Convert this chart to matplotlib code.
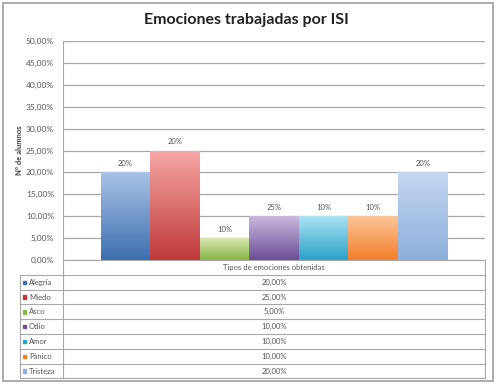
import matplotlib
matplotlib.use("Agg")
import matplotlib.pyplot as plt
import numpy as np
from matplotlib.colors import LinearSegmentedColormap
from matplotlib.patches import Rectangle
from matplotlib.lines import Line2D

plt.rcParams["font.family"] = ["Lato", "DejaVu Sans"]

emotions = ["Alegría", "Miedo", "Asco", "Odio", "Amor", "Pánico", "Tristeza"]
values = [20, 25, 5, 10, 10, 10, 20]
bar_labels = ["20%", "20%", "10%", "25%", "10%", "10%", "20%"]
category = "Tipos de emociones obtenidas"
title = "Emociones trabajadas por ISI"
ylabel = "Nº de alumnos"
dark = ["#3c6fb0", "#c0393a", "#8ab447", "#6c4f96", "#2aa3c8", "#f47f2a", "#8eaedb"]
light = ["#a9c2e6", "#f6a8a6", "#d6e8b0", "#c9b8df", "#a9e2f4", "#fbc598", "#c4d7f0"]

W, H = 498, 384
fig = plt.figure(figsize=(W / 100, H / 100), dpi=100)
fig.patch.set_facecolor("white")
grey = "#555555"


def fx(px):
    return px / W


def fy(py):
    return 1 - py / H


ax = fig.add_axes([fx(63), fy(260), fx(485) - fx(63), fy(41) - fy(260)])
n = len(values)
group = 0.822
width = group / n
xs = -group / 2 + width / 2 + np.arange(n) * width
bars = ax.bar(xs, values, width=width, color="none", edgecolor="none", zorder=2)
grad = np.linspace(0, 1, 100).reshape(-1, 1)
for bar, lo, hi, lab in zip(bars, dark, light, bar_labels):
    cmap = LinearSegmentedColormap.from_list("g", [lo, hi])
    x0, y0 = bar.get_x(), bar.get_y()
    im = ax.imshow(grad, cmap=cmap, aspect="auto", origin="lower",
                   extent=[x0, x0 + bar.get_width(), y0, y0 + bar.get_height()], zorder=2)
    im.set_clip_path(bar)
    ax.text(x0 + bar.get_width() / 2, bar.get_height() + 1.2, lab,
            ha="center", va="bottom", fontsize=5.5, color=grey)

ax.set_xlim(-0.5, 0.5)
ax.set_ylim(0, 50)
ax.set_yticks(np.arange(0, 51, 5))
ax.set_yticklabels([f"{v:.2f}%".replace(".", ",") for v in np.arange(0, 51, 5)],
                   fontsize=6, color=grey)
ax.set_xticks([])
ax.tick_params(axis="y", length=0, pad=6.5)
ax.grid(axis="y", color="#a8a8a8", linewidth=0.9)
ax.set_axisbelow(True)
for s in ["top", "right", "bottom"]:
    ax.spines[s].set_visible(False)
ax.spines["left"].set_color("#a8a8a8")
ax.set_ylabel(ylabel, fontsize=5.5, fontweight="bold", color="#404040", labelpad=2)

fig.text(fx(246), fy(20), title, ha="center", va="center", fontsize=11.5, fontweight="bold", color="#222222")

# data table
line_kw = dict(color="#a8a8a8", linewidth=0.8, transform=fig.transFigure)
row_h = 14.8
top = 260
left, mid, right = 20, 63, 485
fig.add_artist(Line2D([fx(mid), fx(right)], [fy(top), fy(top)], **line_kw))
fig.text(fx((mid + right) / 2), fy(top + row_h / 2), category, ha="center", va="center",
         fontsize=5.5, color=grey)
for i, (name, v, c) in enumerate(zip(emotions, values, dark)):
    y_top = top + row_h * (i + 1)
    fig.add_artist(Line2D([fx(left), fx(right)], [fy(y_top), fy(y_top)], **line_kw))
    yc = fy(y_top + row_h / 2)
    fig.add_artist(Rectangle((fx(23), yc - 1.7 / H), 3.4 / W, 3.4 / H, color=c,
                             transform=fig.transFigure))
    fig.text(fx(29), yc, name, ha="left", va="center", fontsize=5.5, color=grey)
    fig.text(fx((mid + right) / 2), yc, f"{v:.2f}%".replace(".", ","), ha="center", va="center",
             fontsize=5.5, color=grey)
bottom = top + row_h * (n + 1)
fig.add_artist(Line2D([fx(left), fx(right)], [fy(bottom), fy(bottom)], **line_kw))
fig.add_artist(Line2D([fx(left), fx(left)], [fy(top + row_h), fy(bottom)], **line_kw))
fig.add_artist(Line2D([fx(mid), fx(mid)], [fy(top), fy(bottom)], **line_kw))
fig.add_artist(Line2D([fx(right), fx(right)], [fy(top), fy(bottom)], **line_kw))

fig.add_artist(Rectangle((fx(3), fy(381)), fx(490), 378 / H, fill=False,
                         edgecolor="#a0a0a0", linewidth=1.2, transform=fig.transFigure))

fig.savefig("out.png", dpi=100)
